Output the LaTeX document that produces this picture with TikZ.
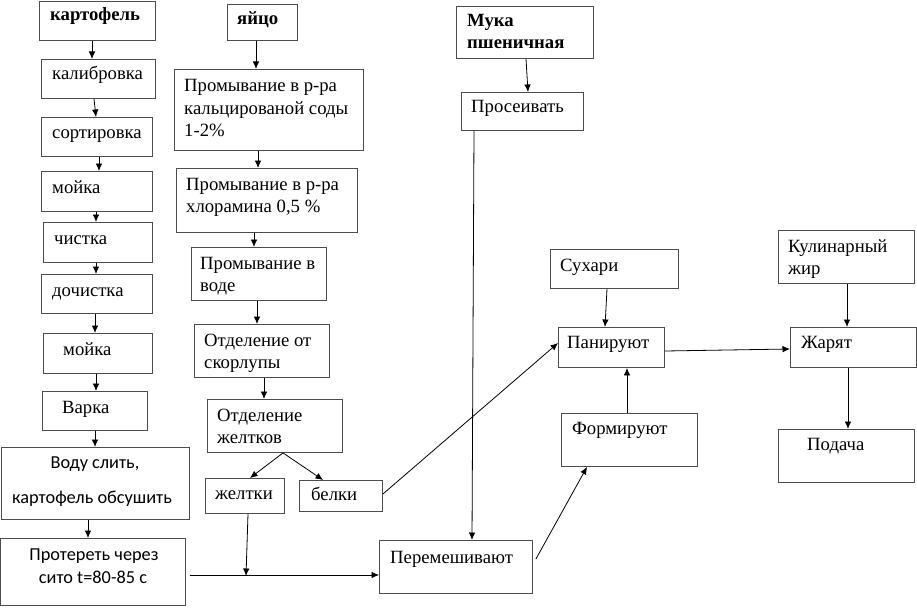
\documentclass[tikz,border=0pt]{standalone}
\usepackage{fontspec}
\setmainfont{Liberation Serif}
\newfontfamily\calfont{Carlito}
\usetikzlibrary{arrows.meta}
\tikzset{
  box/.style={draw=black!70, line width=0.9pt, inner sep=0pt, anchor=north west},
  txt/.style={inner sep=0pt, anchor=base west, font=\fontsize{18.7}{22.5}\selectfont},
  btxt/.style={txt, font=\fontsize{18.7}{22}\selectfont\bfseries},
  stxt/.style={inner sep=0pt, anchor=base, font=\calfont\fontsize{18.3}{22}\selectfont},
  arr/.style={-{Latex[length=7.5pt,width=6.5pt]}, line width=0.8pt},
}
\newcommand\bx[5]{\node[box, minimum width={(#4-#2)*1pt}, minimum height={(#5-#3)*1pt}] (#1) at (#2,#3) {};}
\newcommand\ml[1]{\begin{tabular}[t]{@{}l@{}}#1\end{tabular}}
\begin{document}
\begin{tikzpicture}[x=1pt,y=-1pt]
\useasboundingbox (0,0) rectangle (917,607);
% boxes
\bx{kart}{39}{1}{155}{40}
\bx{egg}{227}{4}{297}{40}
\bx{kalib}{41}{59}{155}{98}
\bx{sort}{41}{117}{152}{156}
\bx{moya}{41}{171}{152}{211}
\bx{chist}{43}{222}{152}{262}
\bx{doch}{41}{274}{152}{313}
\bx{moyb}{43}{333}{152}{373}
\bx{varka}{42}{391}{147}{430}
\bx{vodu}{1}{447}{189}{519}
\bx{prot}{0}{538}{185}{605}
\bx{pa}{174}{69}{363}{150}
\bx{pb}{176}{168}{357}{232}
\bx{pc}{191}{247}{326}{300}
\bx{otd}{194}{324}{329}{377}
\bx{otdz}{207}{399}{342}{452}
\bx{zhelt}{205}{478}{284}{513}
\bx{belki}{299}{480}{382}{511}
\bx{muka}{456}{6}{593}{58}
\bx{pros}{461}{92}{583}{130}
\bx{perem}{379}{540}{532}{593}
\bx{suhari}{550}{249}{678}{288}
\bx{pan}{558}{327}{664}{367}
\bx{form}{561}{413}{697}{466}
\bx{zhir}{778}{230}{914}{283}
\bx{zhar}{790}{327}{916}{367}
\bx{pod}{778}{429}{914}{482}
% texts
\node[btxt] (tkart) at (50,21) {картофель};
\node[btxt] (tegg) at (237,25) {яйцо};
\node[txt] (tkalib) at (52,80) {калибровка};
\node[txt] (tsort) at (52,138) {сортировка};
\node[txt] (tmoya) at (52,193) {мойка};
\node[txt] (tchist) at (54,244) {чистка};
\node[txt] (tdoch) at (52,296) {дочистка};
\node[txt] (tmoyb) at (63,355) {мойка};
\node[txt] (tvarka) at (62,413) {Варка};
\node[stxt] (tvodua) at (95,468) {Воду слить,};
\node[stxt] (tvodub) at (92,503) {картофель обсушить};
\node[stxt] (tprota) at (94,560) {Протереть через};
\node[stxt] (tprotb) at (93,583) {сито t=80-85 с};
\node[txt] (tpa) at (184,92) {\ml{Промывание в р-ра\\кальцированой соды\\1-2\%}};
\node[txt] (tpb) at (186,190) {\ml{Промывание в р-ра\\хлорамина 0,5 \%}};
\node[txt] (tpc) at (200,269) {\ml{Промывание в\\воде}};
\node[txt] (totd) at (204,346) {\ml{Отделение от\\скорлупы}};
\node[txt] (totdz) at (217,421) {\ml{Отделение\\желтков}};
\node[txt] (tzhelt) at (215,499) {желтки};
\node[txt] (tbelki) at (311,500) {белки};
\node[btxt] (tmuka) at (467,27) {\ml{Мука\\пшеничная}};
\node[txt] (tpros) at (471,113) {Просеивать};
\node[txt] (tperem) at (390,563) {Перемешивают};
\node[txt] (tsuhari) at (560,271) {Сухари};
\node[txt] (tpan) at (567,348) {Панируют};
\node[txt] (tform) at (572,434) {Формируют};
\node[txt] (tzhir) at (788,252) {\ml{Кулинарный\\жир}};
\node[txt] (tzhar) at (801,348) {Жарят};
\node[txt] (tpod) at (807,450) {Подача};
% connectors
\draw[arr] (kart.south -| 92,0) -- (kalib.north -| 92,0);
\draw[arr] (kalib.south -| 94,0) -- (sort.north -| 96,0);
\draw[arr] (sort.south -| 99,0) -- (moya.north -| 99,0);
\draw[arr] (moya.south -| 96,0) -- (chist.north -| 96,0);
\draw[arr] (chist.south -| 96,0) -- (doch.north -| 96,0);
\draw[arr] (doch.south -| 95,0) -- (moyb.north -| 95,0);
\draw[arr] (moyb.south -| 96,0) -- (varka.north -| 96,0);
\draw[arr] (varka.south -| 95,0) -- (vodu.north -| 95,0);
\draw[arr] (vodu.south -| 88,0) -- (prot.north -| 88,0);
\draw[arr] (egg.south -| 256,0) -- (pa.north -| 256,0);
\draw[arr] (pa.south -| 258,0) -- (pb.north -| 258,0);
\draw[arr] (pb.south -| 254,0) -- (pc.north -| 254,0);
\draw[arr] (pc.south -| 257,0) -- (otd.north -| 257,0);
\draw[arr] (otd.south -| 264,0) -- (otdz.north -| 264,0);
\draw[arr] (otdz.south -| 283,0) -- (zhelt.north -| 250,0);
\draw[arr] (otdz.south -| 283,0) -- (belki.north -| 323,0);
\coordinate (j) at (246,576);
\draw[arr] (zhelt.south -| 248,0) -- (j);
\draw[arr] (prot.east |- 0,575) ++(4,0) -- (perem.west |- 0,575);
\draw[arr] (belki.east |- 0,494) -- (pan.west |- 0,343);
\draw[arr] (muka.south -| 526,0) -- (pros.north -| 528,0);
\draw[arr] (pros.south -| 474,0) -- (perem.north -| 472,0);
\draw[arr] (perem.east |- 0,559) ++(3,0) -- (form.south -| 587,0);
\draw[arr] (form.north -| 627,0) -- (pan.south -| 627,0);
\draw[arr] (suhari.south -| 607,0) -- (pan.north -| 605,0);
\draw[arr] (pan.east |- 0,351) -- (zhar.west |- 0,349);
\draw[arr] (zhir.south -| 847,0) -- (zhar.north -| 847,0);
\draw[arr] (zhar.south -| 848,0) -- (pod.north -| 848,0);
\end{tikzpicture}
\end{document}
